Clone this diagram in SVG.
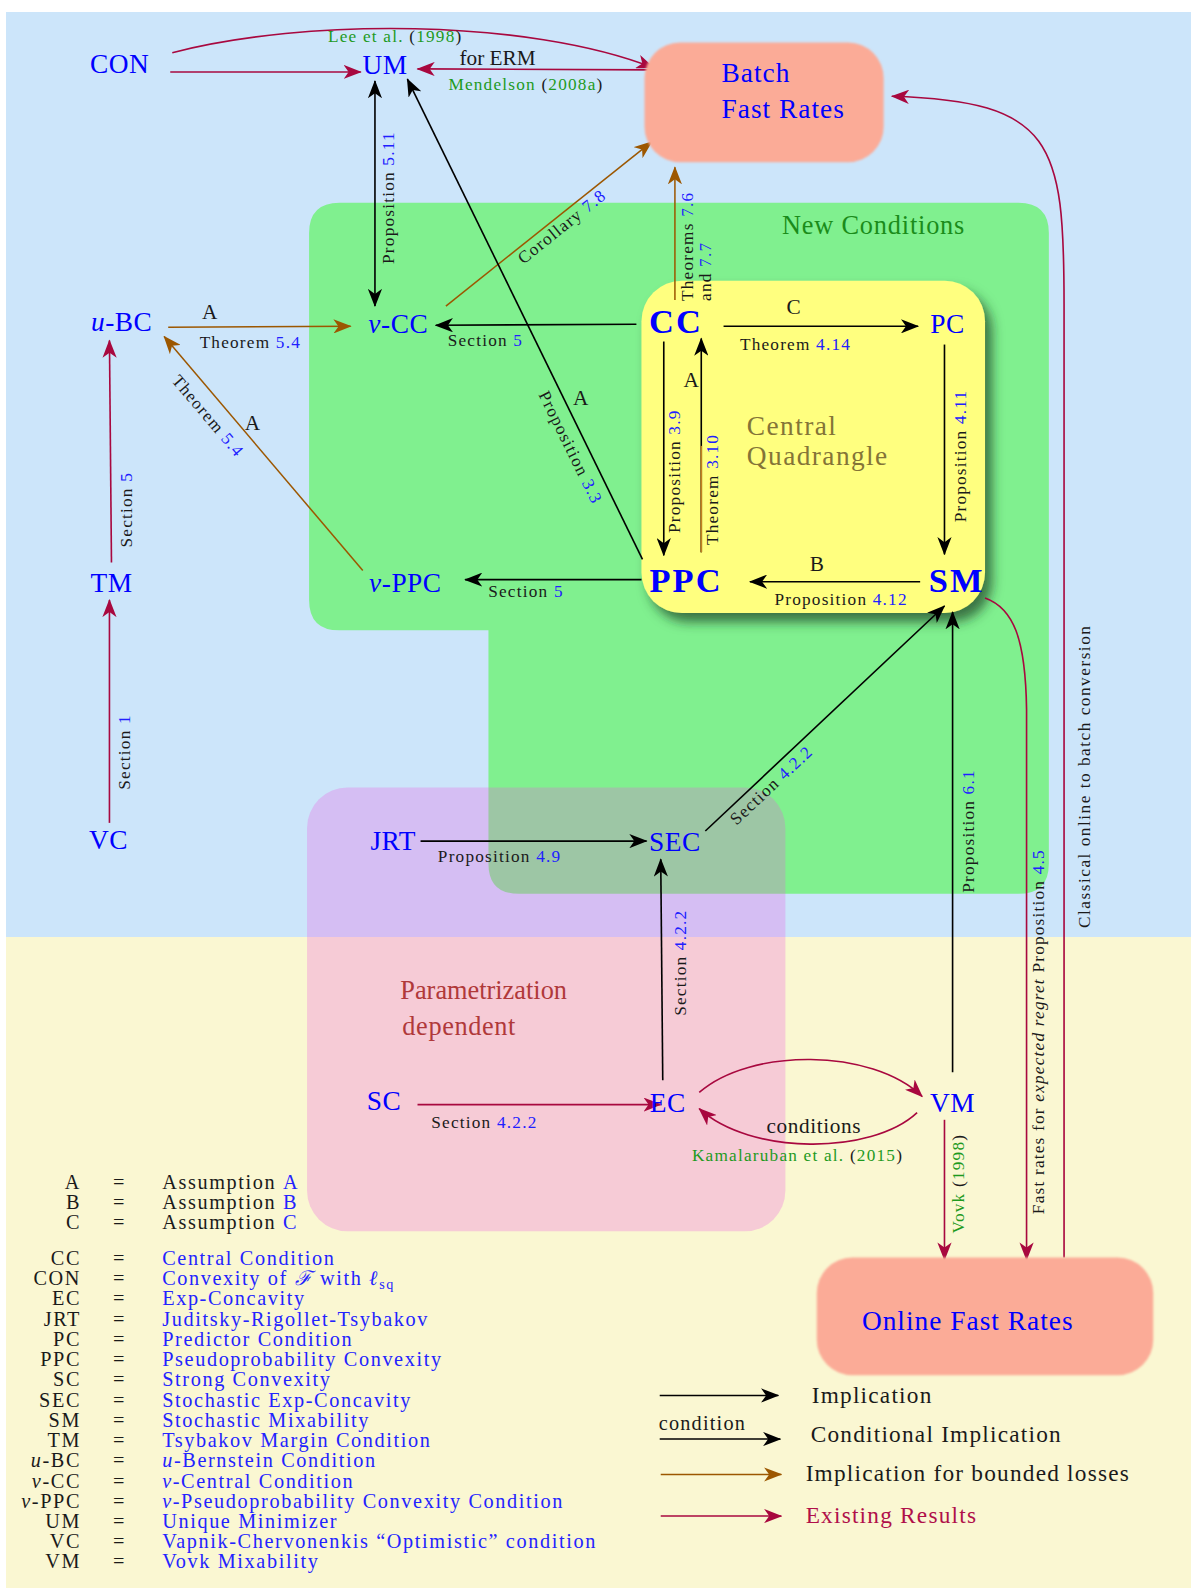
<svg xmlns="http://www.w3.org/2000/svg" width="1191" height="1589" viewBox="0 0 1191 1589">
<defs>
<style>
text{font-family:"Liberation Serif","Times New Roman",serif}
.nd{font-size:27px;fill:#0000ff;letter-spacing:0.5px}
.bd{font-size:34px;font-weight:bold;fill:#0000ff;letter-spacing:2px}
.sm{font-size:17px;fill:#1a1a1a;letter-spacing:1.2px}
.bl{fill:#2020ff}
.gr{fill:#1e9a1e}
.lt{font-size:21px;fill:#1a1a1a}
.lg{font-size:20px;letter-spacing:1.6px;fill:#1a1a1a}
.lv{fill:#2323ff}
.lr{font-size:23px;letter-spacing:1.2px;fill:#1a1a1a}
.k{fill:none;stroke:#000;stroke-width:1.6;marker-end:url(#ak)}
.r{fill:none;stroke:#a8083f;stroke-width:1.6;marker-end:url(#ar)}
.o{fill:none;stroke:#9c5700;stroke-width:1.5;marker-end:url(#ao)}
.box{fill:#fbab97}
</style>
<marker id="ak" viewBox="0 0 18 14" refX="17" refY="7" markerWidth="18" markerHeight="14" markerUnits="userSpaceOnUse" orient="auto-start-reverse"><path d="M0,0 L18,7 L0,14 L5,7 Z" fill="#000"/></marker>
<marker id="ar" viewBox="0 0 18 14" refX="17" refY="7" markerWidth="18" markerHeight="14" markerUnits="userSpaceOnUse" orient="auto-start-reverse"><path d="M0,0 L18,7 L0,14 L5,7 Z" fill="#a8083f"/></marker>
<marker id="ao" viewBox="0 0 18 14" refX="17" refY="7" markerWidth="18" markerHeight="14" markerUnits="userSpaceOnUse" orient="auto-start-reverse"><path d="M0,0 L18,7 L0,14 L5,7 Z" fill="#9c5700"/></marker>
<filter id="sh" x="-10%" y="-10%" width="130%" height="130%"><feDropShadow dx="7" dy="9" stdDeviation="6" flood-color="#1a4020" flood-opacity="0.7"/></filter>
<filter id="soft" x="-5%" y="-5%" width="110%" height="110%"><feGaussianBlur stdDeviation="1.2"/></filter>
</defs>

<g id="backgrounds">
<rect x="0" y="0" width="1191" height="1589" fill="#ffffff"/>
<rect x="6" y="12" width="1185" height="925" fill="#cce5fa"/>
<rect x="6" y="937" width="1185" height="651" fill="#faf7d2"/>
</g>

<g id="diagram" transform="scale(1.01339)">
<g id="regions">
<path id="new-conditions-region" d="M335,200 L1005,200 Q1035,200 1035,230 L1035,852 Q1035,882 1005,882 L512,882 Q482,882 482,852 L482,622 L335,622 Q305,622 305,592 L305,230 Q305,200 335,200 Z" fill="#80f08f"/>
<rect id="param-region" x="303" y="777" width="472" height="438" rx="40" fill="#ee55e0" fill-opacity="0.27"/>
<rect id="central-quadrangle" x="633" y="277" width="339" height="328" rx="40" fill="#ffff7f" filter="url(#sh)"/>
<text x="862" y="231" text-anchor="middle" style="font-size:26px;letter-spacing:0.8px;fill:#1a8c1a">New Conditions</text>
<text x="737" y="429" style="font-size:27px;letter-spacing:1.4px;fill:#847437">Central</text>
<text x="737" y="459" style="font-size:27px;letter-spacing:1.4px;fill:#847437">Quadrangle</text>
<text x="395" y="986" style="font-size:26px;fill:#b0393a">Parametrization</text>
<text x="397" y="1021" style="font-size:26px;letter-spacing:0.6px;fill:#b0393a">dependent</text>
</g>

<g id="connectors">
<path class="r" d="M168,71 L356,71"/>
<path class="r" d="M170,52 C300,18 520,18 645,67"/>
<path class="r" d="M643,69 L412,68"/>
<path class="r" d="M1050,1241 L1050,300 C1050,140 1040,100 880,95"/>
<path class="r" d="M972,590 C1000,600 1012,630 1013,700 L1013,1243"/>
<path class="r" d="M932,1105 L932,1243"/>
<path class="r" d="M690,1078 C740,1034 860,1034 910,1082"/>
<path class="r" d="M905,1098 C860,1140 740,1140 690,1094"/>
<path class="r" d="M412,1090 L652,1090"/>
<path class="r" d="M110,555 L108,336"/>
<path class="r" d="M108,812 L108,592"/>
<path class="o" d="M166,323 L346,322"/>
<path class="o" d="M358,563 L162,332"/>
<path class="o" d="M440,302 L643,140"/>
<path class="o" d="M666,296 L666,165"/>
<path class="k" d="M370,80 L370,302" style="marker-start:url(#ak)"/>
<path class="k" d="M634,552 L402,78"/>
<path class="k" d="M628,320 L430,321"/>
<path class="k" d="M714,322 L906,322"/>
<path class="k" d="M655,337 L655,548"/>
<path class="k" d="M692,545 L692,334"/>
<path d="M692,545 L692,440" fill="none" stroke="#c08020" stroke-width="1.6"/>
<path class="k" d="M932,340 L932,547"/>
<path class="k" d="M908,574 L740,574"/>
<path class="k" d="M633,572 L459,572"/>
<path class="k" d="M696,820 L932,598"/>
<path class="k" d="M940,1058 L940,604"/>
<path class="k" d="M415,830 L638,830"/>
<path class="k" d="M654,1066 L652,848"/>
</g>

<g id="edge-labels">
<text class="sm" x="390" y="41" text-anchor="middle"><tspan class="gr">Lee et al. </tspan>(<tspan class="gr">1998</tspan>)</text>
<text class="lt" x="491" y="64" text-anchor="middle">for ERM</text>
<text class="sm" x="519" y="89" text-anchor="middle"><tspan class="gr">Mendelson </tspan>(<tspan class="gr">2008a</tspan>)</text>
<text class="sm" transform="translate(389,195) rotate(-90)" text-anchor="middle">Proposition <tspan class="bl">5.11</tspan></text>
<text class="sm" transform="translate(558,228) rotate(-38.6)" text-anchor="middle">Corollary <tspan class="bl">7.8</tspan></text>
<text class="sm" transform="translate(684,297) rotate(-90)">Theorems <tspan class="bl">7.6</tspan></text>
<text class="sm" transform="translate(702,297) rotate(-90)">and <tspan class="bl">7.7</tspan></text>
<text class="lt" x="207" y="315" text-anchor="middle">A</text>
<text class="sm" x="247" y="343" text-anchor="middle">Theorem <tspan class="bl">5.4</tspan></text>
<text class="sm" transform="translate(201,414) rotate(49.7)" text-anchor="middle">Theorem <tspan class="bl">5.4</tspan></text>
<text class="lt" x="249" y="424" text-anchor="middle">A</text>
<text class="sm" x="479" y="341" text-anchor="middle">Section <tspan class="bl">5</tspan></text>
<text class="lt" x="573" y="400" text-anchor="middle">A</text>
<text class="sm" transform="translate(558,444) rotate(63.9)" text-anchor="middle">Proposition <tspan class="bl">3.3</tspan></text>
<text class="lt" x="783" y="310" text-anchor="middle">C</text>
<text class="sm" x="785" y="345" text-anchor="middle">Theorem <tspan class="bl">4.14</tspan></text>
<text class="sm" transform="translate(671,465) rotate(-90)" text-anchor="middle">Proposition <tspan class="bl">3.9</tspan></text>
<text class="lt" x="682" y="382" text-anchor="middle">A</text>
<text class="sm" transform="translate(709,483) rotate(-90)" text-anchor="middle">Theorem <tspan class="bl">3.10</tspan></text>
<text class="sm" transform="translate(953,450) rotate(-90)" text-anchor="middle">Proposition <tspan class="bl">4.11</tspan></text>
<text class="lt" x="806" y="563" text-anchor="middle">B</text>
<text class="sm" x="830" y="597" text-anchor="middle">Proposition <tspan class="bl">4.12</tspan></text>
<text class="sm" x="519" y="589" text-anchor="middle">Section <tspan class="bl">5</tspan></text>
<text class="sm" transform="translate(130,503) rotate(-90)" text-anchor="middle">Section <tspan class="bl">5</tspan></text>
<text class="sm" transform="translate(128,742) rotate(-90)" text-anchor="middle">Section <tspan class="bl">1</tspan></text>
<text class="sm" transform="translate(765,779) rotate(-43.2)" text-anchor="middle">Section <tspan class="bl">4.2.2</tspan></text>
<text class="sm" x="493" y="851" text-anchor="middle">Proposition <tspan class="bl">4.9</tspan></text>
<text class="sm" transform="translate(961,820) rotate(-90)" text-anchor="middle">Proposition <tspan class="bl">6.1</tspan></text>
<text class="sm" transform="translate(677,950) rotate(-90)" text-anchor="middle">Section <tspan class="bl">4.2.2</tspan></text>
<text class="sm" x="478" y="1113" text-anchor="middle">Section <tspan class="bl">4.2.2</tspan></text>
<text class="lt" x="803" y="1118" text-anchor="middle" style="letter-spacing:0.6px">conditions</text>
<text class="sm" x="787" y="1146" text-anchor="middle"><tspan class="gr">Kamalaruban et al. </tspan>(<tspan class="gr">2015</tspan>)</text>
<text class="sm" transform="translate(951,1168) rotate(-90)" text-anchor="middle"><tspan class="gr">Vovk </tspan>(<tspan class="gr">1998</tspan>)</text>
<text class="sm" transform="translate(1030,1018) rotate(-90)" text-anchor="middle">Fast rates for <tspan font-style="italic">expected regret</tspan> Proposition <tspan class="bl">4.5</tspan></text>
<text class="sm" transform="translate(1076,766) rotate(-90)" text-anchor="middle" style="letter-spacing:1.5px">Classical online to batch conversion</text>
</g>

<g id="node-batch"><rect class="box" x="636" y="42" width="236" height="118" rx="35" filter="url(#soft)"/>
<text class="nd" x="712" y="81" style="letter-spacing:1px">Batch</text>
<text class="nd" x="712" y="116" style="letter-spacing:1px">Fast Rates</text></g>
<g id="node-online"><rect class="box" x="806" y="1241" width="332" height="116" rx="35" filter="url(#soft)"/>
<text class="nd" x="955" y="1312" text-anchor="middle" style="letter-spacing:1px">Online Fast Rates</text></g>
<g id="node-CON"><text class="nd" x="118" y="72" text-anchor="middle">CON</text></g>
<g id="node-UM"><text class="nd" x="380" y="73" text-anchor="middle">UM</text></g>
<g id="node-uBC"><text class="nd" x="120" y="327" text-anchor="middle"><tspan font-style="italic">u</tspan>-BC</text></g>
<g id="node-vCC"><text class="nd" x="393" y="329" text-anchor="middle"><tspan font-style="italic">v</tspan>-CC</text></g>
<g id="node-CC"><text class="bd" x="667" y="329" text-anchor="middle">CC</text></g>
<g id="node-PC"><text class="nd" x="935" y="329" text-anchor="middle">PC</text></g>
<g id="node-TM"><text class="nd" x="110" y="584" text-anchor="middle">TM</text></g>
<g id="node-vPPC"><text class="nd" x="400" y="584" text-anchor="middle"><tspan font-style="italic">v</tspan>-PPC</text></g>
<g id="node-PPC"><text class="bd" x="677" y="584" text-anchor="middle">PPC</text></g>
<g id="node-SM"><text class="bd" x="944" y="584" text-anchor="middle">SM</text></g>
<g id="node-VC"><text class="nd" x="107" y="838" text-anchor="middle">VC</text></g>
<g id="node-JRT"><text class="nd" x="388" y="839" text-anchor="middle">JRT</text></g>
<g id="node-SEC"><text class="nd" x="666" y="840" text-anchor="middle">SEC</text></g>
<g id="node-SC"><text class="nd" x="379" y="1095" text-anchor="middle">SC</text></g>
<g id="node-EC"><text class="nd" x="659" y="1097" text-anchor="middle">EC</text></g>
<g id="node-VM"><text class="nd" x="940" y="1097" text-anchor="middle">VM</text></g>

<g id="legend-abbrev" class="lg">
<g text-anchor="end">
<text x="80" y="1173">A</text><text x="80" y="1193">B</text><text x="80" y="1213">C</text>
<text x="80" y="1248">CC</text><text x="80" y="1268">CON</text><text x="80" y="1288">EC</text>
<text x="80" y="1308">JRT</text><text x="80" y="1328">PC</text><text x="80" y="1348">PPC</text>
<text x="80" y="1368">SC</text><text x="80" y="1388">SEC</text><text x="80" y="1408">SM</text>
<text x="80" y="1428">TM</text><text x="80" y="1448"><tspan font-style="italic">u</tspan>-BC</text><text x="80" y="1468"><tspan font-style="italic">v</tspan>-CC</text>
<text x="80" y="1488"><tspan font-style="italic">v</tspan>-PPC</text><text x="80" y="1508">UM</text><text x="80" y="1528">VC</text>
<text x="80" y="1547">VM</text>
</g>
<g text-anchor="middle">
<text x="118" y="1173">=</text><text x="118" y="1193">=</text><text x="118" y="1213">=</text>
<text x="118" y="1248">=</text><text x="118" y="1268">=</text><text x="118" y="1288">=</text>
<text x="118" y="1308">=</text><text x="118" y="1328">=</text><text x="118" y="1348">=</text>
<text x="118" y="1368">=</text><text x="118" y="1388">=</text><text x="118" y="1408">=</text>
<text x="118" y="1428">=</text><text x="118" y="1448">=</text><text x="118" y="1468">=</text>
<text x="118" y="1488">=</text><text x="118" y="1508">=</text><text x="118" y="1528">=</text>
<text x="118" y="1547">=</text>
</g>
<text x="160" y="1173">Assumption <tspan class="lv">A</tspan></text>
<text x="160" y="1193">Assumption <tspan class="lv">B</tspan></text>
<text x="160" y="1213">Assumption <tspan class="lv">C</tspan></text>
<g class="lv">
<text x="160" y="1248">Central Condition</text>
<text x="160" y="1268">Convexity of <tspan font-style="italic">ℱ</tspan> with <tspan font-style="italic">ℓ</tspan><tspan font-size="14" dy="4">sq</tspan></text>
<text x="160" y="1288">Exp-Concavity</text>
<text x="160" y="1308">Juditsky-Rigollet-Tsybakov</text>
<text x="160" y="1328">Predictor Condition</text>
<text x="160" y="1348">Pseudoprobability Convexity</text>
<text x="160" y="1368">Strong Convexity</text>
<text x="160" y="1388">Stochastic Exp-Concavity</text>
<text x="160" y="1408">Stochastic Mixability</text>
<text x="160" y="1428">Tsybakov Margin Condition</text>
<text x="160" y="1448"><tspan font-style="italic">u</tspan>-Bernstein Condition</text>
<text x="160" y="1468"><tspan font-style="italic">v</tspan>-Central Condition</text>
<text x="160" y="1488"><tspan font-style="italic">v</tspan>-Pseudoprobability Convexity Condition</text>
<text x="160" y="1508">Unique Minimizer</text>
<text x="160" y="1528">Vapnik-Chervonenkis “Optimistic” condition</text>
<text x="160" y="1547">Vovk Mixability</text>
</g>
</g>

<g id="legend-arrows">
<path class="k" d="M651,1377 L768,1377"/>
<text class="lr" x="801" y="1384">Implication</text>
<text x="650" y="1411" style="font-size:20px;letter-spacing:1.2px;fill:#1a1a1a">condition</text>
<path class="k" d="M651,1420 L770,1420"/>
<text class="lr" x="800" y="1423">Conditional Implication</text>
<path class="o" d="M652,1455 L771,1455"/>
<text class="lr" x="795" y="1461">Implication for bounded losses</text>
<path class="r" d="M652,1496 L771,1496"/>
<text class="lr" x="795" y="1503" style="fill:#b0104a">Existing Results</text>
</g>
</g>
</svg>
